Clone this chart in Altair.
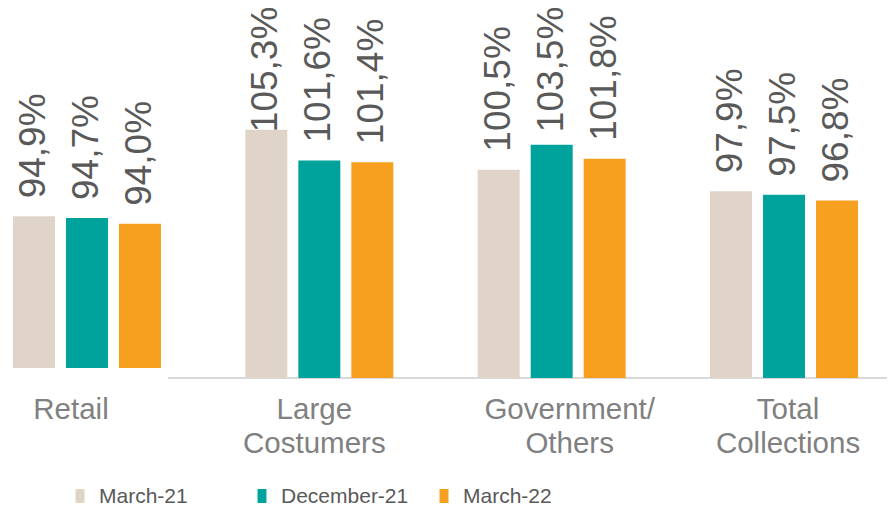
import altair as alt
import pandas as pd

categories = ["Retail", "Large Costumers", "Government/ Others", "Total Collections"]
category_labels = ["Retail", "Large\nCostumers", "Government/\nOthers", "Total\nCollections"]
series = ["March-21", "December-21", "March-22"]
march21 = [94.9, 105.3, 100.5, 97.9]
december21 = [94.7, 101.6, 103.5, 97.5]
march22 = [94.0, 101.4, 101.8, 96.8]
colors = ["#e0d4c8", "#00a39b", "#f7a01f"]

rows = []
for s, vals in zip(series, [march21, december21, march22]):
    for c, v in zip(categories, vals):
        rows.append({"category": c, "series": s, "value": v,
                     "label": f"{v:.1f}".replace(".", ",") + "%"})
df = pd.DataFrame(rows)
cat_df = pd.DataFrame({"category": categories, "label": category_labels})
leg_df = pd.DataFrame({"series": series})
line_df = pd.DataFrame({"d": [0]})

FONT = "Liberation Sans"
W, H = 879, 500

x_scale = alt.Scale(domain=categories, range=[-37.2, 892.2], paddingInner=0, paddingOuter=0)
xo_scale = alt.Scale(domain=series, paddingInner=0.2075, paddingOuter=0.796)
y_scale = alt.Scale(domain=[75.5, 119.9], range=[370, 0], zero=False, nice=False)
color_scale = alt.Scale(domain=series, range=colors)

base = alt.Chart(df).transform_calculate(
    base="datum.category === 'Retail' ? 76.7 : 75.5",
    labelpos="min(datum.value + 2.16, 105.0)",
)

bars = base.mark_bar().encode(
    x=alt.X("category:N", scale=x_scale, axis=None, sort=categories),
    xOffset=alt.XOffset("series:N", scale=xo_scale, sort=series),
    y=alt.Y("value:Q", scale=y_scale, axis=None),
    y2="base:Q",
    color=alt.Color("series:N", scale=color_scale, legend=None),
)

labels = base.mark_text(angle=270, align="left", baseline="middle", fontSize=37,
                        font=FONT, color="#595959").encode(
    x=alt.X("category:N", scale=x_scale, axis=None, sort=categories),
    xOffset=alt.XOffset("series:N", scale=xo_scale, sort=series),
    y=alt.Y("labelpos:Q", scale=y_scale, axis=None),
    text="label:N",
)

axis_line = alt.Chart(line_df).mark_rule(color="#d9d9d9", strokeWidth=2).encode(
    x=alt.value(160), x2=alt.value(W), y=alt.value(370)
)

# small horizontal nudges of the category captions (style only)
label_nudge = {"Retail": -16, "Large Costumers": -5, "Government/ Others": 18, "Total Collections": 4}
cat_layers = []
for c in categories:
    cat_layers.append(
        alt.Chart(cat_df).transform_filter(alt.datum.category == c).mark_text(
            fontSize=29.5, font=FONT, color="#808080", baseline="alphabetic",
            lineBreak="\n", lineHeight=34, dx=label_nudge[c]
        ).encode(
            x=alt.X("category:N", scale=x_scale, axis=None, sort=categories),
            y=alt.value(411),
            text="label:N",
        )
    )

leg_x = alt.X("series:N", scale=alt.Scale(domain=series, range=[72, 436], type="point", padding=0),
              axis=None, sort=series)
leg_sym = alt.Chart(leg_df).mark_point(shape="M-0.64,-1H0.64V1H-0.64Z", size=196,
                                       filled=True, opacity=1).encode(
    x=leg_x, y=alt.value(488),
    color=alt.Color("series:N", scale=color_scale, legend=None),
)
leg_text = alt.Chart(leg_df).mark_text(align="left", baseline="alphabetic", dx=19,
                                       fontSize=21, font=FONT,
                                       color="#595959").encode(
    x=leg_x, y=alt.value(495), text="series:N",
)

chart = alt.layer(axis_line, bars, labels, *cat_layers, leg_sym, leg_text).resolve_scale(
    x="independent"
).properties(
    width=W, height=H, autosize=alt.AutoSizeParams(type="none"), padding=0
).configure_view(stroke=None)

chart.save("out.html", embed_options={"renderer": "svg", "actions": False})
